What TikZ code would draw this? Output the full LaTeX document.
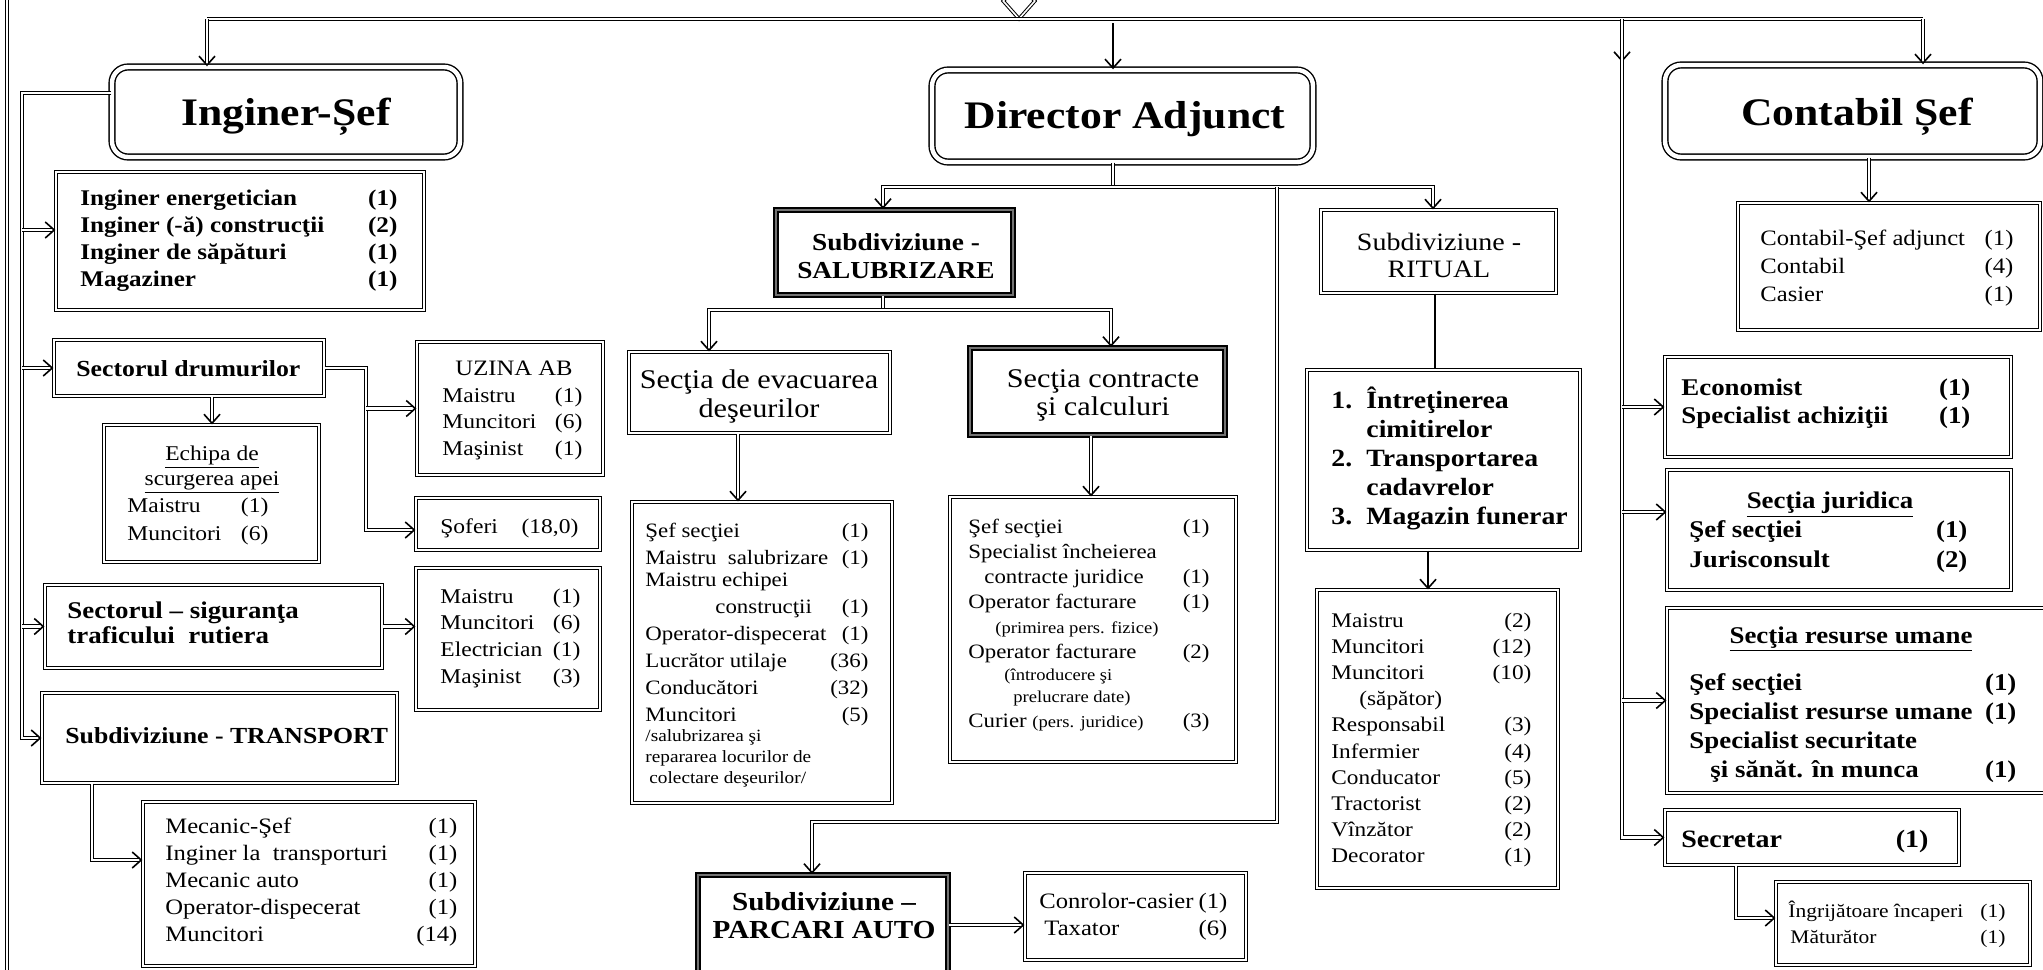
\documentclass[tikz,border=0pt]{standalone}
\usepackage{fontspec}
\setmainfont{Liberation Serif}[FakeStretch=1.12]
\usetikzlibrary{arrows.meta,fit,shapes.geometric}
\newcommand{\fs}[2]{\fontsize{#1}{#2}\selectfont}
\newcommand{\tcol}[2]{\begin{tabular*}{#1}[t]{@{}l@{\extracolsep{\fill}}r@{}}#2\end{tabular*}}
\newcommand{\ccol}[1]{\begin{tabular}[t]{@{}c@{}}#1\end{tabular}}
\newcommand{\lcol}[1]{\begin{tabular}[t]{@{}l@{}}#1\end{tabular}}
\tikzset{
  bx/.style={draw, inner sep=0pt, line width=0.55pt, double, double distance=0.8pt},
  tbox/.style={draw, inner sep=0pt, rounded corners=8pt, line width=0.7pt, double, double distance=2.2pt},
  kbox/.style={draw, inner sep=0pt, line width=1.1pt, double=black!55, double distance=0.8pt},
  conn/.style={line width=0.55pt, double, double distance=1.1pt},
  tipA/.tip={Straight Barb[length=4.5pt,width=8pt,line width=0.8pt]},
  arr/.style={-tipA},
  barr/.style={tipA-tipA},
  sline/.style={line width=0.9pt},
  txt/.style={anchor=base west, inner sep=0pt},
  ctxt/.style={anchor=base, inner sep=0pt},
}
\begin{document}
\begin{tikzpicture}[x=0.5pt,y=-0.5pt]
\useasboundingbox (0,0) rectangle (2043,969);
% boxes
\node[tbox, fit={(112,67) (460,157)}] (isef) {};
\node[bx, fit={(56,172) (424,310)}] (ing) {};
\node[bx, fit={(54,340) (324,396)}] (dr) {};
\node[bx, fit={(104,425) (319,562)}] (ech) {};
\node[bx, fit={(417,342) (603,475)}] (uz) {};
\node[bx, fit={(416,498) (600,550)}] (sof) {};
\node[bx, fit={(45,585) (382,668)}] (sig) {};
\node[bx, fit={(416,568) (600,710)}] (sm) {};
\node[bx, fit={(42,693) (397,783)}] (tr) {};
\node[bx, fit={(143,802) (475,966)}] (mec) {};
\node[tbox, fit={(932,70) (1313,162)}] (dir) {};
\node[kbox, fit={(776,210) (1013,295)}] (sal) {};
\node[bx, fit={(629,352) (890,433)}] (evac) {};
\node[kbox, fit={(970,348) (1225,435)}] (contr) {};
\node[bx, fit={(632,502) (892,803)}] (evl) {};
\node[bx, fit={(950,497) (1236,762)}] (col) {};
\node[kbox, fit={(698,875) (948,975)}] (park) {};
\node[bx, fit={(1025,873) (1246,960)}] (cons) {};
\node[bx, fit={(1321,210) (1556,293)}] (rit) {};
\node[bx, fit={(1307,370) (1580,550)}] (intr) {};
\node[bx, fit={(1317,590) (1558,888)}] (rl) {};
\node[tbox, fit={(1665,65) (2040,157)}] (cs) {};
\node[bx, fit={(1738,203) (2040,330)}] (csl) {};
\node[bx, fit={(1665,357) (2011,457)}] (eco) {};
\node[bx, fit={(1667,470) (2011,590)}] (jur) {};
\node[bx, fit={(1667,608) (2060,793)}] (res) {};
\node[bx, fit={(1665,810) (1959,865)}] (sec) {};
\node[bx, fit={(1776,882) (2030,965)}] (ingr) {};
\node[diamond, draw, double, line width=0.5pt, double distance=0.8pt, inner sep=0pt, minimum width=16pt, minimum height=18pt] (top) at (1019,1) {};
% texts
\node[ctxt, font=\fs{19.5}{22}\bfseries] (isefT) at (286,125) {Inginer-Șef};
\node[ctxt, font=\fs{19.5}{22}\bfseries] (dirT) at (1125,128) {Director Adjunct};
\node[ctxt, font=\fs{19.5}{22}\bfseries] (csT) at (1857,125) {Contabil Șef};
\node[txt, font=\fs{11.2}{13.5}\bfseries] (ingT) at (80,205) {\tcol{158.5pt}{Inginer energetician & (1)\\ Inginer (-ă) construcţii & (2)\\ Inginer de săpături & (1)\\ Magaziner & (1)}};
\node[txt, font=\fs{11.5}{13.5}\bfseries] (drT) at (76,376) {Sectorul drumurilor};
\node[ctxt, font=\fs{10.5}{14}] (echT) at (212,460) {\ccol{\underline{Echipa de}\\[-1.5pt] \underline{scurgerea apei}}};
\node[txt, font=\fs{10.5}{14}] (echL) at (127,512) {\tcol{70.5pt}{Maistru & (1)\\ Muncitori & (6)}};
\node[ctxt, font=\fs{11}{13.5}] (uzT) at (514,375) {UZINA AB};
\node[txt, font=\fs{10.5}{13.25}] (uzL) at (442,402) {\tcol{70pt}{Maistru & (1)\\ Muncitori & (6)\\ Maşinist & (1)}};
\node[txt, font=\fs{10.5}{13.5}] (sofT) at (440,533) {\tcol{69pt}{Şoferi & (18,0)}};
\node[txt, font=\fs{12}{12.5}\bfseries] (sigT) at (67,618) {\lcol{Sectorul – siguranţa\\ traficului\ \ rutiera}};
\node[txt, font=\fs{10.5}{13.4}] (smL) at (440,603) {\tcol{70pt}{Maistru & (1)\\ Muncitori & (6)\\ Electrician & (1)\\ Maşinist & (3)}};
\node[txt, font=\fs{11.5}{13.5}\bfseries] (trT) at (65,743) {Subdiviziune - TRANSPORT};
\node[txt, font=\fs{11}{13.5}] (mecL) at (165,833) {\tcol{146pt}{Mecanic-Şef & (1)\\ Inginer la\ \ transporturi & (1)\\ Mecanic auto & (1)\\ Operator-dispecerat & (1)\\ Muncitori & (14)}};
\node[ctxt, font=\fs{12.2}{14}\bfseries] (salT) at (896,250) {\ccol{Subdiviziune -\\ SALUBRIZARE}};
\node[ctxt, font=\fs{13.5}{14.5}] (evacT) at (759,388) {\ccol{Secţia de evacuarea\\ deşeurilor}};
\node[ctxt, font=\fs{13.5}{14}] (contrT) at (1103,387) {\ccol{Secţia contracte\\ şi calculuri}};
\node[txt, font=\fs{10.2}{13.5}] (evlL) at (645,537) {\tcol{111.5pt}{Şef secţiei & (1)\\ Maistru\ \ salubrizare & (1)\\[-2.2pt] Maistru echipei & \\ \hspace*{35pt}construcţii & (1)\\ Operator-dispecerat & (1)\\ Lucrător utilaje & (36)\\ Conducători & (32)\\ Muncitori & (5)\\[-3.5pt] {\fs{8.6}{10}/salubrizarea şi} & \\[-3pt] {\fs{8.6}{10}repararea locurilor de} & \\[-3pt] {\fs{8.6}{10}\hspace*{2pt}colectare deşeurilor/} & }};
\node[txt, font=\fs{10.2}{12.5}] (colL) at (968,533) {\tcol{120.5pt}{Şef secţiei & (1)\\ Specialist încheierea & \\ \hspace*{8pt}contracte juridice & (1)\\ Operator facturare & (1)\\ \hspace*{13.5pt}{\fs{8.3}{10}(primirea pers. fizice)} & \\ Operator facturare & (2)\\[-1.5pt] \hspace*{18pt}{\fs{8.3}{10}(întroducere şi} & \\[-1.5pt] \hspace*{22.5pt}{\fs{8.3}{10}prelucrare date)} & \\ Curier {\fs{8.3}{10}(pers. juridice)} & (3)}};
\node[ctxt, font=\fs{12.5}{13.5}] (ritT) at (1439,250) {\ccol{Subdiviziune -\\ RITUAL}};
\node[txt, font=\fs{12.4}{14.5}\bfseries] (intrT) at (1331,408) {\begin{tabular}[t]{@{}p{17.5pt}@{}l@{}}1. & Întreţinerea\\ & cimitirelor\\ 2. & Transportarea\\ & cadavrelor\\ 3. & Magazin funerar\end{tabular}};
\node[txt, font=\fs{10.4}{13.1}] (rlL) at (1331,627) {\tcol{100pt}{Maistru & (2)\\ Muncitori & (12)\\ Muncitori & (10)\\ \hspace*{14pt}(săpător) & \\ Responsabil & (3)\\ Infermier & (4)\\ Conducator & (5)\\ Tractorist & (2)\\ Vînzător & (2)\\ Decorator & (1)}};
\node[txt, font=\fs{11}{14.2}] (cslL) at (1760,245) {\tcol{126.5pt}{Contabil-Şef adjunct & (1)\\ Contabil & (4)\\ Casier & (1)}};
\node[txt, font=\fs{12}{14}\bfseries] (ecoL) at (1681,395) {\tcol{144.5pt}{Economist & (1)\\ Specialist achiziţii & (1)}};
\node[ctxt, font=\fs{12}{14}\bfseries] (jurT) at (1830,508) {\underline{Secţia juridica}};
\node[txt, font=\fs{12}{15}\bfseries] (jurL) at (1689,537) {\tcol{139pt}{Şef secţiei & (1)\\ Jurisconsult & (2)}};
\node[ctxt, font=\fs{12}{14}\bfseries] (resT) at (1851,643) {\underline{Secţia resurse umane}};
\node[txt, font=\fs{12}{14.5}\bfseries] (resL) at (1689,690) {\tcol{163.5pt}{Şef secţiei & (1)\\ Specialist resurse umane & (1)\\ Specialist securitate & \\ \hspace*{10.5pt}şi sănăt. în munca & (1)}};
\node[txt, font=\fs{12.5}{14}\bfseries] (secT) at (1681,847) {\tcol{123.5pt}{Secretar & (1)}};
\node[txt, font=\fs{9.6}{13}] (ingrL) at (1788,917) {\tcol{108.5pt}{Îngrijătoare încaperi & (1)\\ \hspace*{1pt}Măturător & (1)}};
\node[ctxt, font=\fs{13}{14}\bfseries] (parkT) at (824,910) {\ccol{Subdiviziune –\\ PARCARI AUTO}};
\node[txt, font=\fs{11}{13.5}] (consL) at (1039,908) {\tcol{94pt}{Conrolor-casier & (1)\\ \hspace*{2.5pt}Taxator & (6)}};
% connectors
\coordinate (fl1) at (7,-10);
\coordinate (fl2) at (7,980);
\draw[conn] (fl1) -- (fl2);
\coordinate (jA) at (207,19);
\coordinate (jB) at (1113,19);
\coordinate (jC) at (1622,19);
\coordinate (jC2) at (1622,62);
\coordinate (jD) at (1923,19);
\draw[conn] (jA) -- (jD);
\draw[conn,arr] (jA) -- (jA |- isef.north);
\draw[conn,arr] (jD) -- (jD |- cs.north);
\draw[sline,arr,shorten <=2pt] (jB) -- (jB |- dir.north);
\draw[conn,arr] (jC) -- (jC2);
\draw[conn,arr] (jC) |- (sec.west);
\coordinate (jJ) at (1622,512);
\draw[conn,arr] (jC |- eco.west) -- (eco.west);
\draw[conn,arr] (jJ) -- (jJ -| jur.west);
\draw[conn,arr] (jC |- res.west) -- (res.west);
\coordinate (L0) at (22,93);
\coordinate (jI) at (22,230);
\draw[conn,arr] (L0 -| isef.west) -- (L0) |- (tr.west);
\draw[conn,arr] (jI) -- (jI -| ing.west);
\draw[conn,arr] (L0 |- dr.west) -- (dr.west);
\draw[conn,arr] (L0 |- sig.west) -- (sig.west);
\coordinate (jU) at (366,530);
\draw[conn,arr] (dr.east) -| (jU) -- (jU -| sof.west);
\draw[conn,arr] (jU |- uz.west) -- (uz.west);
\coordinate (jE) at (212,0);
\draw[conn,arr] (jE |- dr.south) -- (jE |- ech.north);
\draw[conn,arr] (sig.east) -- (sig.east -| sm.west);
\coordinate (jT) at (92,860);
\draw[conn,arr] (jT |- tr.south) -- (jT) -- (jT -| mec.west);
\coordinate (jM) at (1113,187);
\coordinate (m1) at (883,187);
\coordinate (m2) at (1433,187);
\coordinate (m3) at (1277,187);
\coordinate (m4) at (1277,822);
\coordinate (m5) at (812,822);
\draw[conn] (jM |- dir.south) -- (jM);
\draw[conn,barr] (m1 |- sal.north) -- (m1) -- (m2) -- (m2 |- rit.north);
\draw[conn,arr] (m3) -- (m4) -- (m5) -- (m5 |- park.north);
\coordinate (jS) at (883,310);
\coordinate (s1) at (709,310);
\coordinate (s2) at (1111,310);
\draw[conn] (jS |- sal.south) -- (jS);
\draw[conn,barr] (s1 |- evac.north) -- (s1) -- (s2) -- (s2 |- contr.north);
\coordinate (e1) at (738,0);
\draw[conn,arr] (e1 |- evac.south) -- (e1 |- evl.north);
\coordinate (e2) at (1091,0);
\draw[conn,arr] (e2 |- contr.south) -- (e2 |- col.north);
\coordinate (r1) at (1435,0);
\draw[sline] (r1 |- rit.south) -- (r1 |- intr.north);
\coordinate (r2) at (1428,0);
\draw[sline,arr] (r2 |- intr.south) -- (r2 |- rl.north);
\draw[conn,arr] (park.east) -- (park.east -| cons.west);
\coordinate (c1) at (1869,0);
\draw[conn,arr] (c1 |- cs.south) -- (c1 |- csl.north);
\coordinate (q) at (1736,918);
\draw[conn,arr] (q |- sec.south) -- (q) -- (q -| ingr.west);
\end{tikzpicture}
\end{document}
